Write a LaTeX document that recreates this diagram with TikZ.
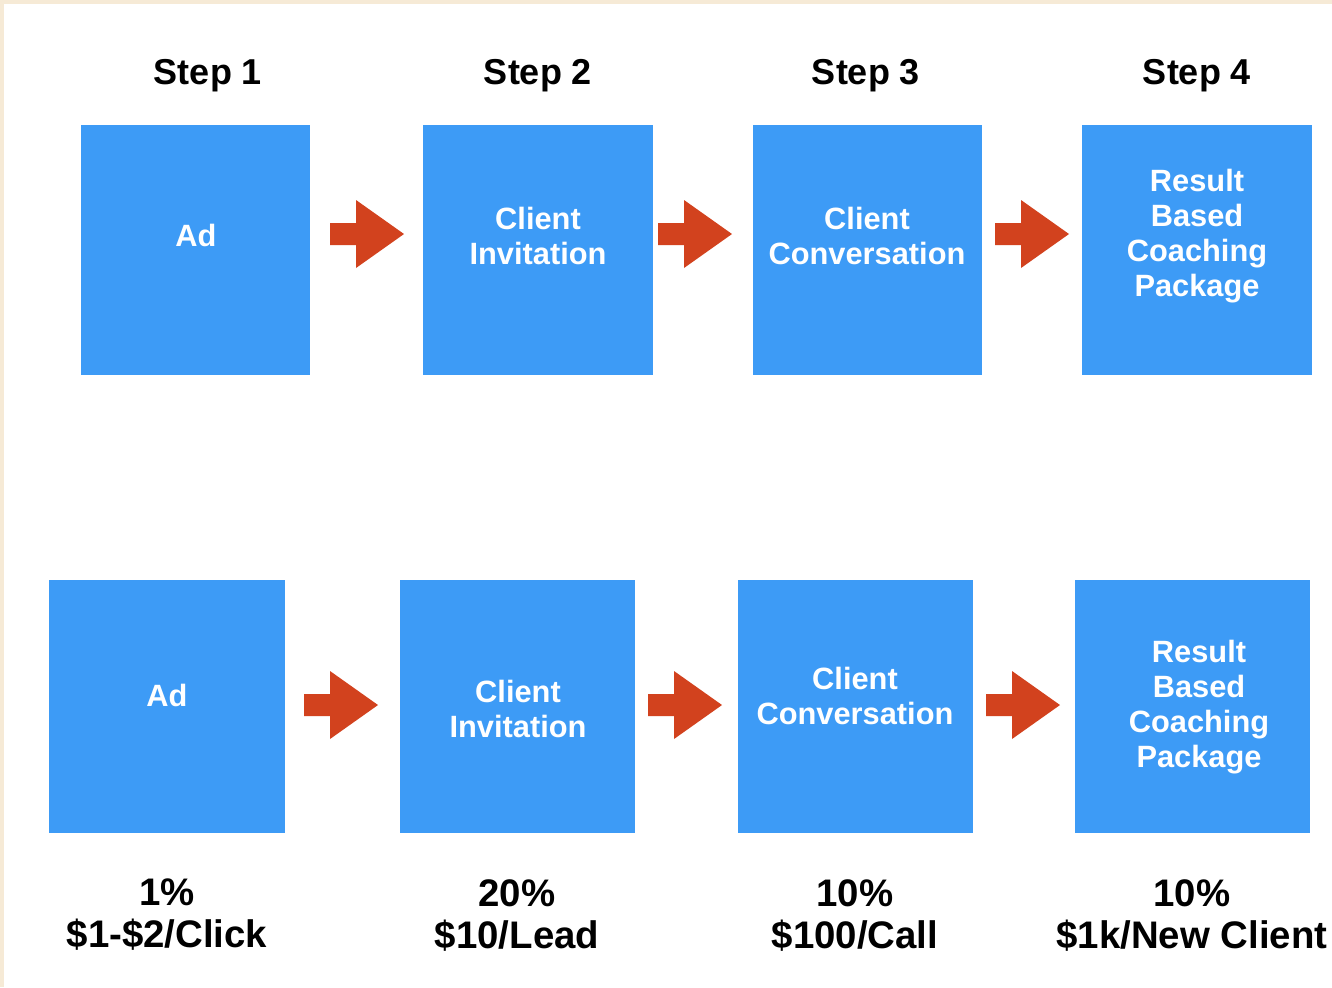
\documentclass[tikz,border=0pt]{standalone}
\usepackage{fontspec}
\setmainfont{Liberation Sans}
\definecolor{boxblue}{HTML}{3D9BF6}
\definecolor{arrred}{HTML}{D2421E}
\definecolor{beige}{HTML}{F6EAD6}
\begin{document}
\begin{tikzpicture}[x=0.5pt,y=-0.5pt,
  stepbox/.style={fill=boxblue,draw=none,inner sep=0pt},
  boxtext/.style={text=white,font=\bfseries\fontsize{15.4}{17.5}\selectfont,align=center,inner sep=0pt},
  steptitle/.style={font=\bfseries\fontsize{18}{21}\selectfont,inner sep=0pt},
  costlabel/.style={font=\bfseries\fontsize{19.2}{21}\selectfont,align=center,inner sep=0pt},
  fatarrow/.style={fill=arrred,draw=none}]
\useasboundingbox (0,0) rectangle (1332,987);
\fill[white] (0,0) rectangle (1332,987);
\fill[beige] (0,0) rectangle (1332,4);
\fill[beige] (0,0) rectangle (4,987);
% titles
\node[steptitle] (t1) at (208,76) {Step 1};
\node[steptitle] (t2) at (538,76) {Step 2};
\node[steptitle] (t3) at (866,76) {Step 3};
\node[steptitle] (t4) at (1197,76) {Step 4};
% top boxes
\fill[stepbox] (81,125) rectangle (310,375);
\fill[stepbox] (423,125) rectangle (653,375);
\fill[stepbox] (753,125) rectangle (982,375);
\fill[stepbox] (1082,125) rectangle (1312,375);
\node[boxtext] (a1) at (196,235) {Ad};
\node[boxtext] (a2) at (538,235.5) {Client\\Invitation};
\node[boxtext] (a3) at (867,235.5) {Client\\Conversation};
\node[boxtext] (a4) at (1197,236) {Result\\Based\\Coaching\\Package};
% bottom boxes
\fill[stepbox] (49,580) rectangle (285,833);
\fill[stepbox] (400,580) rectangle (635,833);
\fill[stepbox] (738,580) rectangle (973,833);
\fill[stepbox] (1075,580) rectangle (1310,833);
\node[boxtext] (b1) at (167,695) {Ad};
\node[boxtext] (b2) at (518,708.5) {Client\\Invitation};
\node[boxtext] (b3) at (855,695.5) {Client\\Conversation};
\node[boxtext] (b4) at (1199,707) {Result\\Based\\Coaching\\Package};
% arrows
\foreach \x/\y in {330/234, 658/234, 995/234, 304/705, 648/705, 986/705}{
  \fill[fatarrow] (\x,\y-11) -- (\x+26,\y-11) -- (\x+26,\y-34) -- (\x+74,\y) -- (\x+26,\y+34) -- (\x+26,\y+11) -- (\x,\y+11) -- cycle;
}
% cost labels
\node[costlabel] (c1) at (167,915) {1\%\\\$1-\$2/Click};
\node[costlabel] (c2) at (517,915) {20\%\\\$10/Lead};
\node[costlabel] (c3) at (855,915) {10\%\\\$100/Call};
\node[costlabel] (c4) at (1192,915) {10\%\\\$1k/New Client};
\end{tikzpicture}
\end{document}
